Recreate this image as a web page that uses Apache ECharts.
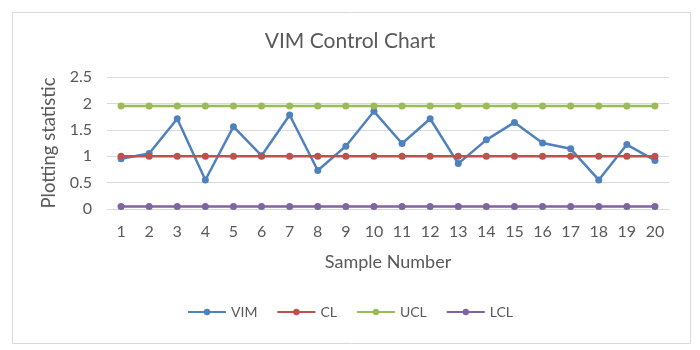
<!DOCTYPE html>
<html>
<head>
<meta charset="utf-8">
<script src="https://cdn.jsdelivr.net/npm/echarts@6/dist/echarts.min.js"></script>
<style>
  html, body { margin: 0; padding: 0; background: #fff; }
  #chart { width: 700px; height: 350px; }
</style>
</head>
<body>
<div id="chart"></div>
<script>
const samples = ['1','2','3','4','5','6','7','8','9','10','11','12','13','14','15','16','17','18','19','20']
const vim = [0.95, 1.05, 1.71, 0.55, 1.56, 1.01, 1.78, 0.73, 1.19, 1.85, 1.24, 1.71, 0.86, 1.31, 1.64, 1.25, 1.14, 0.55, 1.22, 0.92]
const cl = [1, 1, 1, 1, 1, 1, 1, 1, 1, 1, 1, 1, 1, 1, 1, 1, 1, 1, 1, 1]
const ucl = [1.95, 1.95, 1.95, 1.95, 1.95, 1.95, 1.95, 1.95, 1.95, 1.95, 1.95, 1.95, 1.95, 1.95, 1.95, 1.95, 1.95, 1.95, 1.95, 1.95]
const lcl = [0.045, 0.045, 0.045, 0.045, 0.045, 0.045, 0.045, 0.045, 0.045, 0.045, 0.045, 0.045, 0.045, 0.045, 0.045, 0.045, 0.045, 0.045, 0.045, 0.045]

const font = 'Lato'
const textColor = '#595959'

function line(name, data, color) {
  return {
    name: name,
    type: 'line',
    data: data,
    symbol: 'circle',
    symbolSize: 7,
    lineStyle: { width: 2.5, color: color },
    itemStyle: { color: color },
    animation: false
  }
}

const chart = echarts.init(document.getElementById('chart'))
chart.setOption({
  textStyle: { fontFamily: font },
  graphic: [{
    type: 'rect',
    shape: { x: 12.5, y: 12.5, width: 678, height: 331 },
    style: { fill: 'none', stroke: '#d9d9d9', lineWidth: 1 },
    silent: true
  }],
  title: {
    text: 'VIM Control Chart',
    left: 'center',
    top: 26,
    textStyle: { fontFamily: font, fontSize: 21, fontWeight: 'normal', color: textColor }
  },
  legend: {
    data: ['VIM', 'CL', 'UCL', 'LCL'],
    bottom: 26,
    left: 'center',
    itemWidth: 38,
    itemHeight: 8,
    itemGap: 19,
    textStyle: { fontFamily: font, fontSize: 14, color: textColor }
  },
  grid: { left: 107, right: 31, top: 77, bottom: 141 },
  xAxis: {
    type: 'category',
    data: samples,
    boundaryGap: true,
    name: 'Sample Number',
    nameLocation: 'middle',
    nameGap: 44,
    nameTextStyle: { fontFamily: font, fontSize: 18, color: textColor },
    axisLine: { lineStyle: { color: '#d9d9d9' } },
    axisTick: { show: false },
    axisLabel: { fontFamily: font, fontSize: 16, color: textColor, margin: 15 }
  },
  yAxis: {
    type: 'value',
    min: 0,
    max: 2.5,
    interval: 0.5,
    name: 'Plotting statistic',
    nameLocation: 'middle',
    nameGap: 41,
    nameTextStyle: { fontFamily: font, fontSize: 18.5, color: textColor },
    axisLine: { show: false },
    axisTick: { show: false },
    axisLabel: { fontFamily: font, fontSize: 16, color: textColor, margin: 15 },
    splitLine: { lineStyle: { color: '#d9d9d9' } }
  },
  series: [
    line('VIM', vim, '#4F81BD'),
    line('CL', cl, '#C0504D'),
    line('UCL', ucl, '#9BBB59'),
    line('LCL', lcl, '#8064A2')
  ]
})
</script>
</body>
</html>
